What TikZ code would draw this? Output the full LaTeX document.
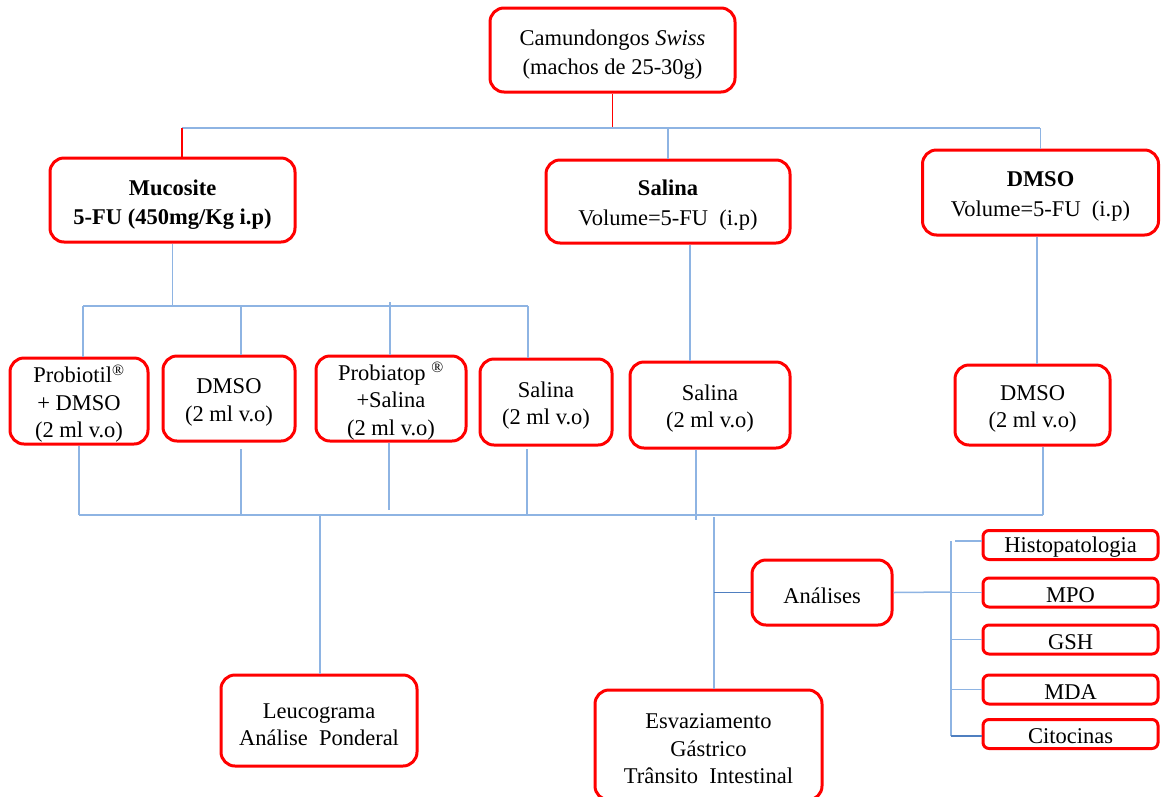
\documentclass[tikz,border=0pt]{standalone}
\usepackage{fontspec}
\setmainfont{Liberation Serif}
\definecolor{lblue}{HTML}{8EB4E3}
\definecolor{dblue}{HTML}{4F7FC0}
\definecolor{bred}{HTML}{FF0000}
\newcommand\liftup{\rule{0pt}{23pt}}
\newcommand\liftbig{\rule{0pt}{25pt}}
\newcommand\liftsm{\rule{0pt}{19.5pt}}
\begin{document}
\begin{tikzpicture}[x=1pt,y=-1pt,
  rbox/.style={draw=bred,line width=3pt,rounded corners=14pt,fill=white,inner sep=0pt,align=center,
    font=\fontsize{22.5}{27.5}\selectfont},
  tbox/.style={rbox,font=\fontsize{22.5}{29.5}\selectfont},
  sbox/.style={draw=bred,line width=3pt,rounded corners=6pt,fill=white,inner sep=0pt,align=center,
    minimum width=175pt,minimum height=29pt,font=\fontsize{22.5}{26}\selectfont},
  bl/.style={draw=lblue,line width=1.5pt},
  dbl/.style={draw=dblue,line width=1.5pt},
  rl/.style={draw=bred,line width=1.5pt}]
\useasboundingbox (0,0) rectangle (1161,796);
\fill[white] (0,0) rectangle (1161,796);

% nodes
\node[tbox,minimum width=245pt,minimum height=84pt] (top) at (612.5,50) {\liftbig Camundongos \textit{Swiss}\\(machos de 25-30g)};
\node[tbox,minimum width=245pt,minimum height=84pt] (muc) at (172.5,200) {\liftbig\textbf{Mucosite}\\\textbf{5-FU (450mg/Kg i.p)}};
\node[tbox,minimum width=244pt,minimum height=83pt] (sal) at (668,201.5) {\liftup\textbf{Salina}\\Volume=5-FU\ \ (i.p)};
\node[tbox,minimum width=236pt,minimum height=85pt] (dms) at (1040.5,192.5) {\liftup\textbf{DMSO}\\Volume=5-FU\ \ (i.p)};

\node[rbox,minimum width=138pt,minimum height=86pt] (p1) at (79,401) {\liftup Probiotil\textsuperscript{®}\\+ DMSO\\(2 ml v.o)};
\node[rbox,minimum width=132pt,minimum height=85pt] (p2) at (229,398.5) {\liftup DMSO\\(2 ml v.o)};
\node[rbox,minimum width=150pt,minimum height=85pt] (p3) at (391,398.5) {\liftup Probiatop \textsuperscript{®}\\+Salina\\(2 ml v.o)};
\node[rbox,minimum width=132pt,minimum height=86pt] (p4) at (546,402) {\liftup Salina\\(2 ml v.o)};
\node[rbox,minimum width=160pt,minimum height=86pt] (s2) at (710,405) {\liftup Salina\\(2 ml v.o)};
\node[rbox,minimum width=155pt,minimum height=80pt] (d2) at (1032.5,405) {\liftup DMSO\\(2 ml v.o)};

\node[rbox,minimum width=196pt,minimum height=91pt] (leu) at (319,720.5) {\liftup Leucograma\\Análise\ \ Ponderal};
\node[rbox,minimum width=227pt,minimum height=110pt] (esv) at (708.5,745) {\liftup Esvaziamento\\Gástrico\\Trânsito\ \ Intestinal};
\node[rbox,minimum width=140pt,minimum height=65pt] (ana) at (822,592.5) {\liftup Análises};

\node[sbox] (his) at (1070.5,545) {\liftsm Histopatologia};
\node[sbox] (mpo) at (1070.5,592.5) {\liftsm MPO};
\node[sbox] (gsh) at (1070.5,639.5) {\liftsm GSH};
\node[sbox] (mda) at (1070.5,689.5) {\liftsm MDA};
\node[sbox] (cit) at (1070.5,734) {\liftsm Citocinas};

% junction coordinates
\coordinate (b1L) at (182,128);
\coordinate (b1R) at (1040,128);
\coordinate (b2L) at (83,306);
\coordinate (b2R) at (528,306);
\coordinate (c2a) at (241,306);
\coordinate (c3a) at (390,302);
\coordinate (cs) at (690,0);
\coordinate (cd) at (1037,0);
\coordinate (b3L) at (79,515);
\coordinate (b3R) at (1043,515);
\coordinate (c2b) at (241,449);
\coordinate (c3b) at (389,510);
\coordinate (c4b) at (527,449);
\coordinate (c5b) at (696,520);
\coordinate (cl) at (320,515);
\coordinate (ce) at (714,517);
\coordinate (br) at (951,592);
\coordinate (brT) at (951,541);
\coordinate (brB) at (951,736);
\coordinate (hs) at (955,541);

% top level
\draw[rl] (top.south) -- (top.south |- b1L);
\draw[bl] (b1L) -- (b1R);
\draw[rl] (b1L) -- (b1L |- muc.north);
\draw[bl] (sal.north) -- (sal.north |- b1L);
\draw[bl] (dms.north) -- (dms.north |- b1L);

% mucosite sub-branches
\draw[bl] (muc.south) -- (muc.south |- b2L);
\draw[bl] (b2L) -- (b2R);
\draw[bl] (b2L) -- (b2L |- p1.north);
\draw[bl] (c2a) -- (c2a |- p2.north);
\draw[bl] (c3a) -- (c3a |- p3.north);
\draw[bl] (b2R) -- (b2R |- p4.north);
\draw[bl] (cs |- sal.south) -- (cs |- s2.north);
\draw[bl] (cd |- dms.south) -- (cd |- d2.north);

% lower collector
\draw[bl] (p1.south) -- (p1.south |- b3L);
\draw[bl] (b3L) -- (b3R);
\draw[bl] (c2b) -- (c2b |- b3L);
\draw[bl] (c3b |- p3.south) -- (c3b);
\draw[bl] (c4b) -- (c4b |- b3L);
\draw[bl] (c5b |- s2.south) -- (c5b);
\draw[bl] (b3R |- d2.south) -- (b3R);

% outputs
\draw[bl] (cl) -- (cl |- leu.north);
\draw[bl] (ce) -- (ce |- esv.north);
\draw[dbl] (ce |- ana.west) -- (ana.west);

% analyses bracket
\draw[bl] (ana.east) -- (br);
\draw[bl] (brT) -- (brB);
\draw[bl] (hs) -- (hs -| his.west);
\draw[bl] (brT |- mpo.west) -- (mpo.west);
\draw[bl] (brT |- gsh.west) -- (gsh.west);
\draw[bl] (brT |- mda.west) -- (mda.west);
\draw[dbl] (brB) -- (brB -| cit.west);
\end{tikzpicture}
\end{document}
